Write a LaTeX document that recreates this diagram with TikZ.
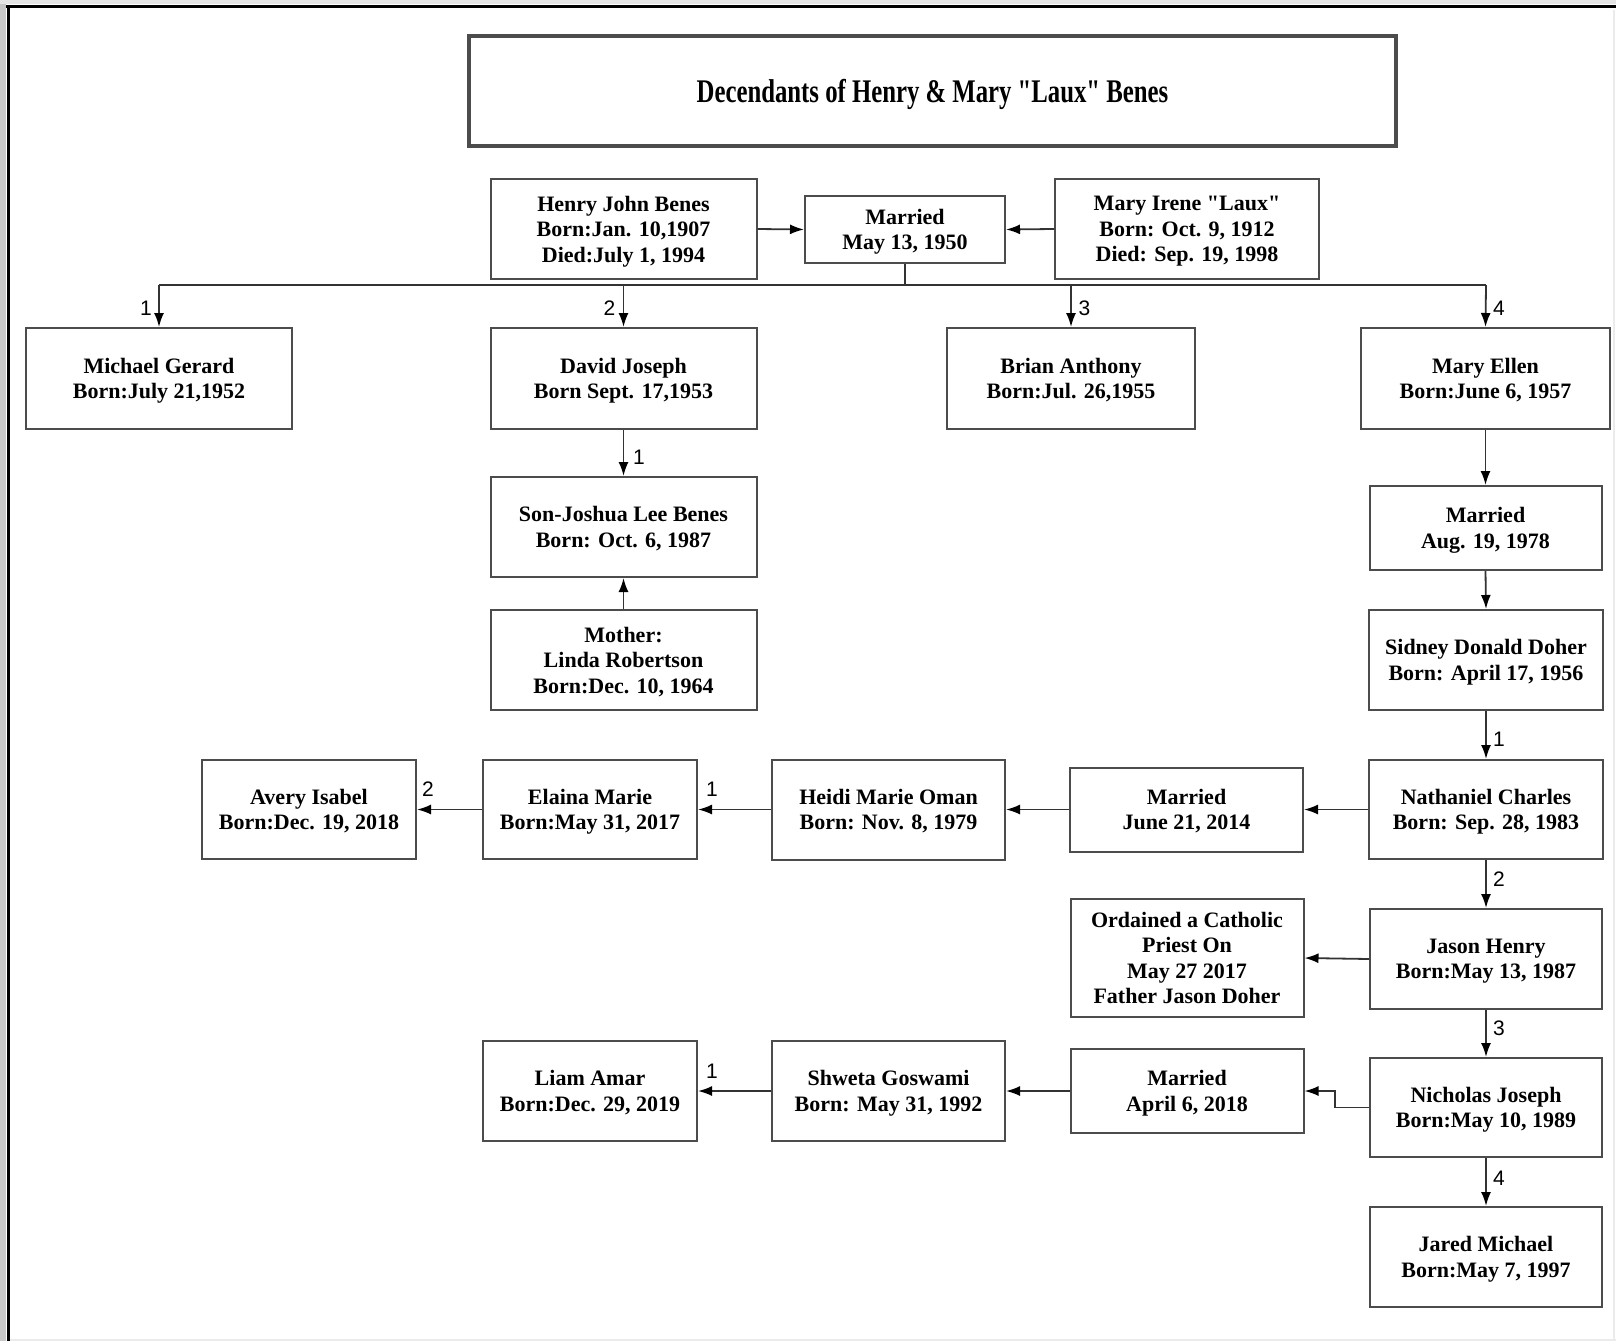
\documentclass[tikz,border=0pt]{standalone}
\usepackage{fontspec}
\newfontfamily\boxfont{Liberation Serif}
\newfontfamily\titlefont[FakeStretch=0.75]{Liberation Serif}
\newfontfamily\labelfont{Liberation Sans}
\usetikzlibrary{arrows.meta}
\begin{document}
\begin{tikzpicture}[x=1pt,y=-1pt,
  box/.style={draw=black!70, line width=2pt, fill=white, inner sep=0pt, align=center,
    text depth=0pt, font=\boxfont\fontsize{22}{25.5}\selectfont\bfseries},
  titlebox/.style={draw=black!70, line width=3.2pt, fill=white, inner sep=0pt, align=center,
    text depth=0pt, font=\titlefont\bfseries\fontsize{33}{33}\selectfont},
  conn/.style={draw=black!80, line width=1.8pt},
  arr/.style={conn, -{Latex[length=14pt,width=10pt,color=black,fill=black]}},
  num/.style={font=\labelfont\fontsize{21}{21}\selectfont, inner sep=0pt}
]
\useasboundingbox (0,0) rectangle (1616,1341);
% frame
\fill[black!22] (0,0) rectangle (6,1341);
\fill[black!10] (0,0) rectangle (1616,4);
\draw[black!8, line width=1.5pt] (1614,10) -- (1614,1341);
\draw[black!8, line width=1.5pt] (10,1340) -- (1616,1340);
\draw[black, line width=3.5pt] (6,6.5) -- (1616,6.5);
\draw[black, line width=3.5pt] (8.3,5) -- (8.3,1341);

% title
\node[titlebox, minimum width=927pt, minimum height=110pt] (title) at (932.5,91)
  {Decendants of Henry \& Mary "Laux" Benes};

% generation 1
\node[box, minimum width=266pt, minimum height=100pt] (henry) at (623.5,229)
  {Henry John Benes\\Born:Jan. 10,1907\\Died:July 1, 1994};
\node[box, minimum width=200pt, minimum height=67pt] (mar1) at (905,229.5)
  {Married\\May 13, 1950};
\node[box, minimum width=264pt, minimum height=100pt] (mary) at (1187,229)
  {Mary Irene "Laux"\\Born: Oct. 9, 1912\\Died: Sep. 19, 1998};

% generation 2
\node[box, minimum width=266pt, minimum height=101pt] (michael) at (159,378.5)
  {Michael Gerard\\Born:July 21,1952};
\node[box, minimum width=266pt, minimum height=101pt] (david) at (623.5,378.5)
  {David Joseph\\Born Sept. 17,1953};
\node[box, minimum width=248pt, minimum height=101pt] (brian) at (1071,378.5)
  {Brian Anthony\\Born:Jul. 26,1955};
\node[box, minimum width=249pt, minimum height=101pt] (ellen) at (1485.5,378.5)
  {Mary Ellen\\Born:June 6, 1957};

% David's branch
\node[box, minimum width=266pt, minimum height=100pt] (joshua) at (623.5,527)
  {Son-Joshua Lee Benes\\Born: Oct. 6, 1987};
\node[box, minimum width=266pt, minimum height=100pt] (linda) at (623.5,660)
  {Mother:\\Linda Robertson\\Born:Dec. 10, 1964};

% Mary Ellen's branch
\node[box, minimum width=232pt, minimum height=84pt] (mar2) at (1485.5,528)
  {Married\\Aug. 19, 1978};
\node[box, minimum width=234pt, minimum height=100pt] (sidney) at (1486,660)
  {Sidney Donald Doher\\Born: April 17, 1956};
\node[box, minimum width=234pt, minimum height=99pt] (nathaniel) at (1486,809.5)
  {Nathaniel Charles\\Born: Sep. 28, 1983};
\node[box, minimum width=233pt, minimum height=84pt] (mar3) at (1186.5,809.5)
  {Married\\June 21, 2014};
\node[box, minimum width=233pt, minimum height=100pt] (heidi) at (888.5,809.5)
  {Heidi Marie Oman\\Born: Nov. 8, 1979};
\node[box, minimum width=214pt, minimum height=99pt] (elaina) at (590,809.5)
  {Elaina Marie\\Born:May 31, 2017};
\node[box, minimum width=214pt, minimum height=99pt] (avery) at (309,809.5)
  {Avery Isabel\\Born:Dec. 19, 2018};
\node[box, minimum width=232pt, minimum height=100pt] (jason) at (1486,959)
  {Jason Henry\\Born:May 13, 1987};
\node[box, minimum width=233pt, minimum height=118pt] (ordained) at (1187,958)
  {Ordained a Catholic\\Priest On\\May 27 2017\\Father Jason Doher};
\node[box, minimum width=232pt, minimum height=99pt] (nicholas) at (1486,1107.5)
  {Nicholas Joseph\\Born:May 10, 1989};
\node[box, minimum width=233pt, minimum height=84pt] (mar4) at (1187,1091)
  {Married\\April 6, 2018};
\node[box, minimum width=233pt, minimum height=100pt] (shweta) at (888.5,1091)
  {Shweta Goswami\\Born: May 31, 1992};
\node[box, minimum width=214pt, minimum height=100pt] (liam) at (590,1091)
  {Liam Amar\\Born:Dec. 29, 2019};
\node[box, minimum width=232pt, minimum height=100pt] (jared) at (1486,1257)
  {Jared Michael\\Born:May 7, 1997};

% connectors generation 1
\draw[arr] (henry.east) -- (mar1.west);
\draw[arr] (mary.west) -- (mar1.east);
\coordinate (busm) at (905,285);
\coordinate (bus1) at (159,285);
\coordinate (bus2) at (623.5,285);
\coordinate (bus3) at (1071,285);
\coordinate (bus4) at (1486,285);
\draw[conn] (mar1.south) -- (busm);
\draw[conn] (bus1) -- (bus4);
\draw[arr] (bus1) -- (michael.north);
\draw[arr] (bus2) -- (david.north);
\draw[arr] (bus3) -- (brian.north);
\draw[arr] (bus4) -- (ellen.north);
\node[num] (n1) at (146,308) {1};
\node[num] (n2) at (609.5,308) {2};
\node[num] (n3) at (1084.5,308) {3};
\node[num] (n4) at (1499,308) {4};

% David's branch
\draw[arr] (david.south) -- (joshua.north);
\node[num] (nj) at (639,457) {1};
\draw[arr] (linda.north) -- (joshua.south);

% Mary Ellen's branch
\draw[arr] (ellen.south) -- (mar2.north);
\draw[arr] (mar2.south) -- (sidney.north);
\draw[arr] (sidney.south) -- (nathaniel.north);
\node[num] (nn) at (1499,739) {1};
\draw[arr] (nathaniel.west) -- (mar3.east);
\draw[arr] (mar3.west) -- (heidi.east);
\draw[arr] (heidi.west) -- (elaina.east);
\node[num] (ne) at (712,789) {1};
\draw[arr] (elaina.west) -- (avery.east);
\node[num] (na) at (428,789) {2};
\draw[arr] (nathaniel.south) -- (jason.north);
\node[num] (nja) at (1499,879) {2};
\draw[arr] (jason.west) -- (ordained.east);
\draw[arr] (jason.south) -- (nicholas.north);
\node[num] (nni) at (1499,1028) {3};
\coordinate (elb1) at (1335,1107.5);
\coordinate (elb2) at (1335,1091);
\draw[arr] (nicholas.west) -- (elb1) -- (elb2) -- (mar4.east);
\draw[arr] (mar4.west) -- (shweta.east);
\draw[arr] (shweta.west) -- (liam.east);
\node[num] (nl) at (712,1071) {1};
\draw[arr] (nicholas.south) -- (jared.north);
\node[num] (njr) at (1499,1178) {4};
\end{tikzpicture}
\end{document}
